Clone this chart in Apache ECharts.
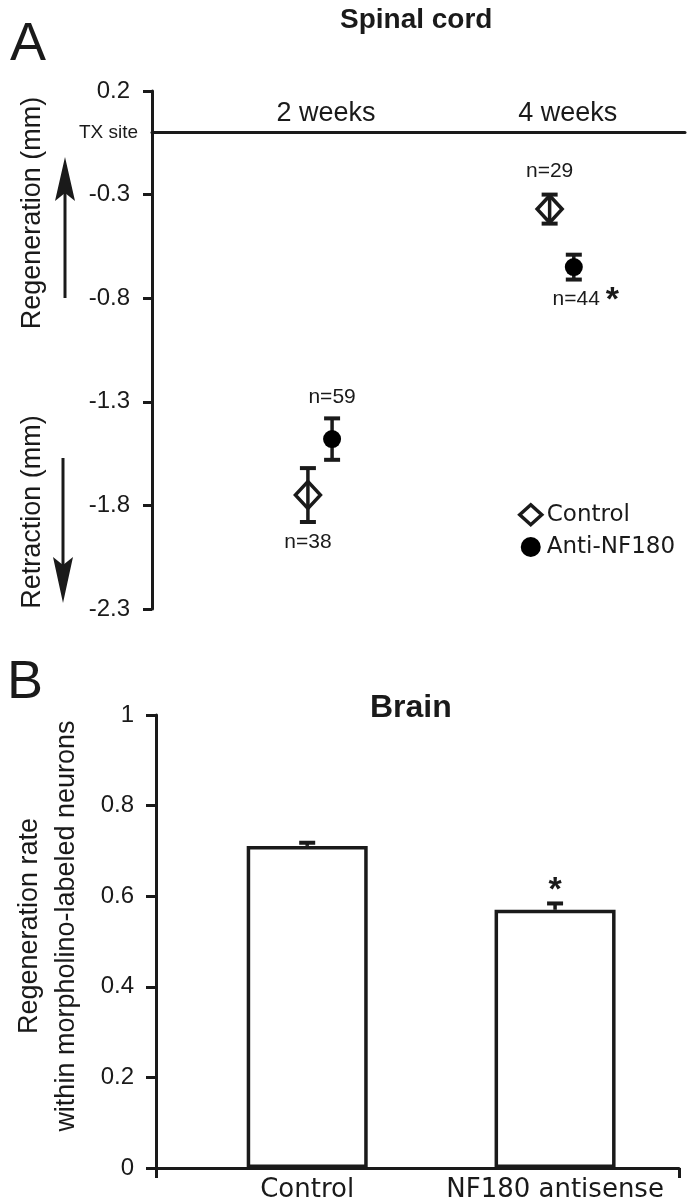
<!DOCTYPE html>
<html>
<head>
<meta charset="utf-8">
<script src="https://cdn.jsdelivr.net/npm/echarts@6/dist/echarts.min.js"></script>
<style>
    html, body { margin: 0; padding: 0; background: #fff; }
    #chart { width: 688px; height: 1200px; }
</style>
</head>
<body>
<div id="chart"></div>
<script>
    // panel A: spinal cord, position of axon tips relative to TX site (mm)
    var weeks = [2, 4];
    var weekLabels = ['2 weeks', '4 weeks'];
    var ctrlMean = [-1.75, -0.37];
    var ctrlSE = [0.13, 0.07];
    var ctrlN = [38, 29];
    var antiMean = [-1.48, -0.65];
    var antiSE = [0.10, 0.06];
    var antiN = [59, 44];
    var antiSig = ['', '*'];

    // panel B: brain
    var groups = ['Control', 'NF180 antisense'];
    var rate = [0.711, 0.570];
    var rateSE = [0.007, 0.014];
    var rateSig = ['', '*'];

    var INK = '#1a1a1a';
    var FONT = '"Liberation Sans", Arial, sans-serif';
    var WIDE = '"DejaVu Sans", sans-serif';

    // error bar drawer, data = [x, low, high]; capLow false -> only the top cap
    function errorBar(capLow) {
        return function (params, api) {
            var x = api.value(0);
            var lo = api.coord([x, api.value(1)]);
            var hi = api.coord([x, api.value(2)]);
            var h = 8;
            var kids = [
                {type: 'line', shape: {x1: lo[0], y1: lo[1], x2: hi[0], y2: hi[1]}, style: {stroke: INK, lineWidth: 3.5}},
                {type: 'line', shape: {x1: hi[0] - h, y1: hi[1], x2: hi[0] + h, y2: hi[1]}, style: {stroke: INK, lineWidth: 4}}
            ];
            if (capLow) {
                kids.push({type: 'line', shape: {x1: lo[0] - h, y1: lo[1], x2: lo[0] + h, y2: lo[1]}, style: {stroke: INK, lineWidth: 4}});
            }
            return {type: 'group', children: kids};
        };
    }

    var ctrlOff = -0.15, antiOff = 0.05;

    var chart = echarts.init(document.getElementById('chart'));
    chart.setOption({
        animation: false,
        backgroundColor: '#fff',
        textStyle: {fontFamily: FONT, color: INK},
        title: [
            {text: 'Spinal cord', left: 340, top: 6, padding: 0,
                textStyle: {fontSize: 28, fontWeight: 'bold', color: INK, fontFamily: FONT}},
            {text: 'Brain', left: 370, top: 692, padding: 0,
                textStyle: {fontSize: 32, fontWeight: 'bold', color: INK, fontFamily: FONT}}
        ],
        legend: {
            orient: 'vertical',
            left: 513, top: 498,
            itemWidth: 22, itemHeight: 20, itemGap: 9,
            textStyle: {fontFamily: WIDE, fontSize: 23, color: INK},
            data: [
                {name: 'Control', icon: 'diamond', itemStyle: {color: '#fff', borderColor: INK, borderWidth: 3.5, opacity: 1}},
                {name: 'Anti-NF180', icon: 'circle', itemStyle: {color: '#000', borderWidth: 0, opacity: 1}}
            ]
        },
        grid: [
            {left: 152, right: 3, top: 91, bottom: 591, outerBoundsMode: 'none'},
            {left: 156, right: 9, top: 715, bottom: 32, outerBoundsMode: 'none'}
        ],
        xAxis: [
            {
                gridIndex: 0, type: 'value', min: 0.56, max: 4.97,
                axisLine: {onZero: true, lineStyle: {color: INK, width: 3}},
                axisTick: {show: false},
                splitLine: {show: false},
                axisLabel: {show: false},
                name: 'TX site', nameLocation: 'start', nameGap: 14,
                nameTextStyle: {fontSize: 19, color: INK}
            },
            {
                gridIndex: 1, type: 'value', min: 0.39, max: 2.5,
                axisLine: {onZero: false, lineStyle: {color: INK, width: 3}},
                axisTick: {show: true, customValues: [0.39, 2.5], length: 10, lineStyle: {color: INK, width: 3}},
                splitLine: {show: false},
                axisLabel: {
                    customValues: [1, 2], margin: 9,
                    fontFamily: WIDE, fontSize: 26, color: INK,
                    formatter: function (v) { return groups[v - 1]; }
                }
            },
            {
                // week labels sit just under the top edge of panel A
                gridIndex: 0, type: 'value', position: 'top', min: 0.56, max: 4.97,
                axisLine: {show: false},
                axisTick: {show: false},
                splitLine: {show: false},
                axisLabel: {
                    customValues: weeks, inside: true, margin: 9,
                    fontSize: 27, color: INK,
                    formatter: function (v) { return weekLabels[weeks.indexOf(v)]; }
                }
            }
        ],
        yAxis: [
            {
                gridIndex: 0, type: 'value', min: -2.3, max: 0.2, interval: 0.5,
                axisLine: {show: true, onZero: false, lineStyle: {color: INK, width: 3}},
                axisTick: {show: true, length: 9, lineStyle: {color: INK, width: 3}},
                splitLine: {show: false},
                axisLabel: {margin: 22, fontSize: 24, color: INK,
                    formatter: function (v) { return v.toFixed(1); }}
            },
            {
                gridIndex: 1, type: 'value', min: 0, max: 1, interval: 0.2,
                axisLine: {show: true, onZero: false, lineStyle: {color: INK, width: 3}},
                axisTick: {show: true, length: 10, lineStyle: {color: INK, width: 3}},
                splitLine: {show: false},
                axisLabel: {margin: 22, fontSize: 24, color: INK,
                    formatter: function (v) { return String(Math.round(v * 10) / 10); }}
            }
        ],
        series: [
            {
                name: 'Control', type: 'scatter', xAxisIndex: 0, yAxisIndex: 0,
                symbol: 'diamond', symbolSize: [25, 27], z: 3,
                itemStyle: {color: 'rgba(255,255,255,0)', borderColor: INK, borderWidth: 3.5, opacity: 1},
                label: {show: true, fontSize: 21, color: INK,
                    formatter: function (p) { return 'n=' + ctrlN[p.dataIndex]; }},
                data: weeks.map(function (w, i) {
                    return {value: [w + ctrlOff, ctrlMean[i]],
                        label: {position: i === 0 ? 'bottom' : 'top', distance: i === 0 ? 21 : 12}};
                })
            },
            {
                name: 'Anti-NF180', type: 'scatter', xAxisIndex: 0, yAxisIndex: 0,
                symbol: 'circle', symbolSize: 18, z: 3,
                itemStyle: {color: '#000', opacity: 1},
                label: {show: true, fontSize: 21, color: INK,
                    formatter: function (p) {
                        var s = antiSig[p.dataIndex];
                        return 'n=' + antiN[p.dataIndex] + (s ? ' {s|' + s + '}' : '');
                    },
                    rich: {s: {fontSize: 34, fontWeight: 'bold', color: INK, padding: [4, 0, 0, 0]}}},
                data: weeks.map(function (w, i) {
                    return {value: [w + antiOff, antiMean[i]],
                        label: i === 0 ? {position: 'top', distance: 22} : {position: 'bottom', distance: 4, offset: [12, 0]}};
                })
            },
            {
                type: 'custom', xAxisIndex: 0, yAxisIndex: 0, z: 4,
                renderItem: errorBar(true),
                encode: {x: 0, y: [1, 2]},
                data: weeks.map(function (w, i) { return [w + ctrlOff, ctrlMean[i] - ctrlSE[i], ctrlMean[i] + ctrlSE[i]]; })
            },
            {
                type: 'custom', xAxisIndex: 0, yAxisIndex: 0, z: 2,
                renderItem: errorBar(true),
                encode: {x: 0, y: [1, 2]},
                data: weeks.map(function (w, i) { return [w + antiOff, antiMean[i] - antiSE[i], antiMean[i] + antiSE[i]]; })
            },
            {
                name: 'Brain', type: 'bar', xAxisIndex: 1, yAxisIndex: 1,
                barWidth: 121,
                itemStyle: {color: '#fff', borderColor: INK, borderWidth: 3.5},
                label: {show: true, position: 'top', distance: 2, fontSize: 34, fontWeight: 'bold', color: INK,
                    formatter: function (p) { return rateSig[p.dataIndex]; }},
                data: groups.map(function (g, i) { return [i + 1, rate[i]]; })
            },
            {
                type: 'custom', xAxisIndex: 1, yAxisIndex: 1, z: 4,
                renderItem: errorBar(false),
                encode: {x: 0, y: [1, 2]},
                data: groups.map(function (g, i) { return [i + 1, rate[i], rate[i] + rateSE[i]]; })
            }
        ],
        graphic: [
            {type: 'text', x: 28, y: 45, style: {text: 'A', font: '54px ' + FONT, fill: INK, align: 'center', verticalAlign: 'middle'}},
            {type: 'text', x: 25, y: 683, style: {text: 'B', font: '54px ' + FONT, fill: INK, align: 'center', verticalAlign: 'middle'}},
            {type: 'text', x: 33, y: 213, rotation: Math.PI / 2,
                style: {text: 'Regeneration (mm)', font: '27px ' + FONT, fill: INK, align: 'center', verticalAlign: 'middle'}},
            {type: 'text', x: 33, y: 512, rotation: Math.PI / 2,
                style: {text: 'Retraction (mm)', font: '27px ' + FONT, fill: INK, align: 'center', verticalAlign: 'middle'}},
            {type: 'line', shape: {x1: 65, y1: 298, x2: 65, y2: 190}, style: {stroke: INK, lineWidth: 3}},
            {type: 'polygon', shape: {points: [[65, 157], [75, 201], [65, 193], [55, 201]]}, style: {fill: INK}},
            {type: 'line', shape: {x1: 63, y1: 458, x2: 63, y2: 565}, style: {stroke: INK, lineWidth: 3}},
            {type: 'polygon', shape: {points: [[63, 603], [73, 557], [63, 565], [53, 557]]}, style: {fill: INK}},
            {type: 'text', x: 48, y: 926, rotation: Math.PI / 2,
                style: {text: 'Regeneration rate\nwithin morpholino-labeled neurons', font: '27px ' + FONT,
                    lineHeight: 37, fill: INK, align: 'center', verticalAlign: 'middle'}}
        ]
    });
</script>
</body>
</html>
